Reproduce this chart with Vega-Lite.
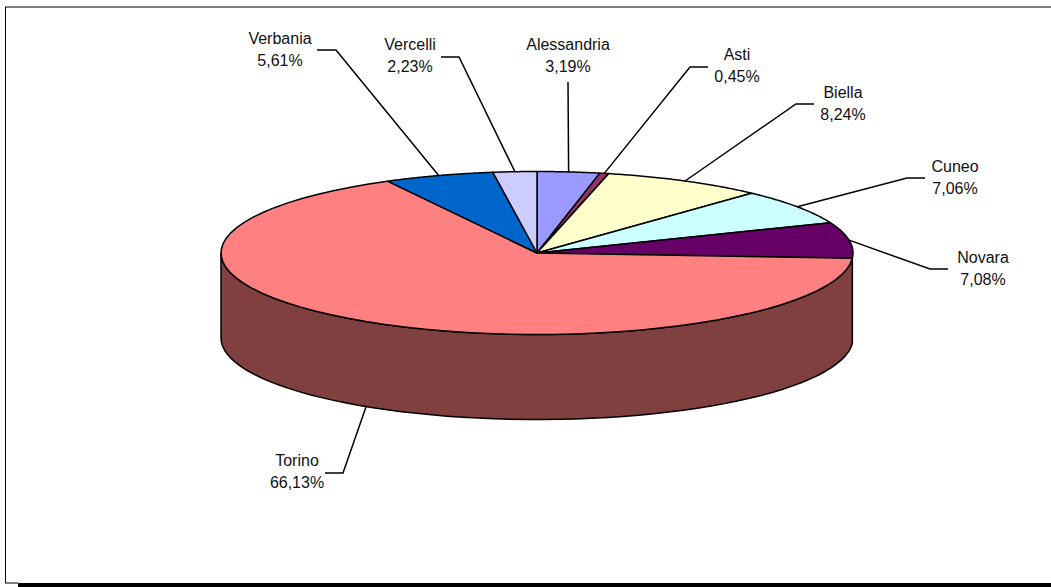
{
"$schema":"https://vega.github.io/schema/vega-lite/v6.json",
"width":1051,"height":587,"padding":0,"autosize":"none","background":"white",
"config":{"view":{"stroke":null}},
"data":{"values":[
{"slice":1,"name":"Alessandria","value":3.19},
{"slice":2,"name":"Asti","value":0.45},
{"slice":3,"name":"Biella","value":8.24},
{"slice":4,"name":"Cuneo","value":7.06},
{"slice":5,"name":"Novara","value":7.08},
{"slice":6,"name":"Torino","value":66.13},
{"slice":7,"name":"Verbania","value":5.61},
{"slice":8,"name":"Vercelli","value":2.23}
]},
"transform":[
{"window":[{"op":"sum","field":"value","as":"cum"}],"sort":[{"field":"slice"}],"frame":[null,0]},
{"joinaggregate":[{"op":"sum","field":"value","as":"total"}]},
{"calculate":"2*PI*(datum.cum-datum.value)/datum.total","as":"a0"},
{"calculate":"2*PI*datum.cum/datum.total","as":"a1"},
{"calculate":"(datum.a0+datum.a1)/2","as":"mid"},
{"calculate":"datum.name+'\\n'+replace(format(datum.value,'.2f'),'.',',')+'%'","as":"label"}
],
"layer":[
{"transform":[
{"filter":"datum.name==='Torino'"},
{"calculate":"[0,1,2,3,4,5,6,7,8,9,10,11,12,13,14,15,16,17,18,19,20,21,22,23,24,25,26,27,28,29,30,31,32,33,34,35,36,37,38,39,40,41,42,43,44,45,46,47,48,49,50,51,52,53,54,55,56,57,58,59,60,61,62,63,64,65,66,67,68,69,70,71,72,73,74,75,76,77,78,79,80,81,82,83,84,85,86,87,88,89,90,91,92,93,94,95,96,97,98,99,100,101,102,103,104,105,106,107,108,109,110,111,112,113,114,115,116,117,118,119,120,121]","as":"steps"},
{"flatten":["steps"],"as":["step"]},
{"calculate":"datum.step<=60?datum.step:121-datum.step","as":"along"},
{"calculate":"datum.a0+(1.5*PI-datum.a0)*datum.along/60","as":"t"},
{"calculate":"316*sin(datum.t)","as":"px"},
{"calculate":"-81.5*cos(datum.t)+(datum.step<=60?0:85)","as":"py"}
],
"mark":{"type":"line","interpolate":"linear-closed","fill":"#804040","stroke":"black","strokeWidth":1.5,"strokeJoin":"round"},
"encoding":{
"x":{"field":"px","type":"quantitative","axis":null,"scale":{"domain":[-537,514],"range":[0,1051],"nice":false,"zero":false}},
"y":{"field":"py","type":"quantitative","axis":null,"scale":{"domain":[-253,334],"range":[0,587],"nice":false,"zero":false}},
"order":{"field":"step","type":"quantitative"}
}},
{"transform":[
{"calculate":"[0,1,2,3,4,5,6,7,8,9,10,11,12,13,14,15,16,17,18,19,20,21,22,23,24,25,26,27,28,29,30,31,32,33,34,35,36,37,38,39,40,41,42,43,44,45,46,47,48,49,50,51,52,53,54,55,56,57,58,59,60,61]","as":"steps"},
{"flatten":["steps"],"as":["step"]},
{"calculate":"datum.a0+(datum.a1-datum.a0)*(datum.step-1)/60","as":"t"},
{"calculate":"datum.step===0?0:316*sin(datum.t)","as":"px"},
{"calculate":"datum.step===0?0:-81.5*cos(datum.t)","as":"py"}
],
"mark":{"type":"line","interpolate":"linear-closed","stroke":"black","strokeWidth":1.5,"strokeJoin":"round"},
"encoding":{
"x":{"field":"px","type":"quantitative","axis":null},
"y":{"field":"py","type":"quantitative","axis":null},
"fill":{"field":"name","type":"nominal","legend":null,"scale":{"domain":["Alessandria","Asti","Biella","Cuneo","Novara","Torino","Verbania","Vercelli"],"range":["#9999FF","#993366","#FFFFCC","#CCFFFF","#660066","#FF8080","#0066CC","#CCCCFF"]}},
"detail":{"field":"name"},
"order":{"field":"step","type":"quantitative"}
}},
{"transform":[
{"calculate":"{'Verbania':[-201,-203,-220,-203],'Vercelli':[-78,-196,-96,-196],'Alessandria':[31,-171,31,-171],'Asti':[153,-186,171,-186],'Biella':[259,-149,277,-149],'Cuneo':[370,-75,388,-75],'Novara':[393,16,411,16],'Torino':[-194,220,-212,220]}[datum.name]","as":"bend"},
{"calculate":"[0,1,2]","as":"steps"},
{"flatten":["steps"],"as":["step"]},
{"calculate":"datum.step===0?316*sin(datum.mid):datum.step===1?datum.bend[0]:datum.bend[2]","as":"px"},
{"calculate":"datum.step===0?(-81.5*cos(datum.mid)+(datum.name==='Torino'?85:0)):datum.step===1?datum.bend[1]:datum.bend[3]","as":"py"}
],
"mark":{"type":"line","stroke":"black","strokeWidth":1.5},
"encoding":{
"x":{"field":"px","type":"quantitative","axis":null},
"y":{"field":"py","type":"quantitative","axis":null},
"detail":{"field":"name"},
"order":{"field":"step","type":"quantitative"}
}},
{"transform":[
{"calculate":"{'Verbania':[-257,-214],'Vercelli':[-127,-208],'Alessandria':[31,-208],'Asti':[200,-198],'Biella':[306,-160],'Cuneo':[418,-86],'Novara':[446,5],'Torino':[-240,208]}[datum.name]","as":"spot"},
{"calculate":"datum.spot[0]","as":"px"},
{"calculate":"datum.spot[1]","as":"py"}
],
"mark":{"type":"text","font":"Liberation Sans","fontSize":16,"lineBreak":"\n","lineHeight":22,"align":"center","baseline":"middle","fill":"#111111"},
"encoding":{
"x":{"field":"px","type":"quantitative","axis":null},
"y":{"field":"py","type":"quantitative","axis":null},
"text":{"field":"label"}
}},
{"data":{"values":[{"frame":"edge"}]},
"mark":{"type":"rule","stroke":"black","strokeWidth":1},
"encoding":{"x":{"datum":-531.5,"type":"quantitative","axis":null},"y":{"datum":-246,"type":"quantitative","axis":null},"y2":{"datum":330}}},
{"data":{"values":[{"frame":"edge"}]},
"mark":{"type":"rule","stroke":"black","strokeWidth":1},
"encoding":{"x":{"datum":-532,"type":"quantitative","axis":null},"x2":{"datum":514},"y":{"datum":-246,"type":"quantitative","axis":null}}},
{"data":{"values":[{"frame":"edge"}]},
"mark":{"type":"rule","stroke":"black","strokeWidth":1},
"encoding":{"x":{"datum":-532,"type":"quantitative","axis":null},"x2":{"datum":-519},"y":{"datum":330,"type":"quantitative","axis":null}}},
{"data":{"values":[{"frame":"edge"}]},
"mark":{"type":"rule","stroke":"black","strokeWidth":4},
"encoding":{"x":{"datum":-519,"type":"quantitative","axis":null},"x2":{"datum":514},"y":{"datum":332,"type":"quantitative","axis":null}}}
]
}
